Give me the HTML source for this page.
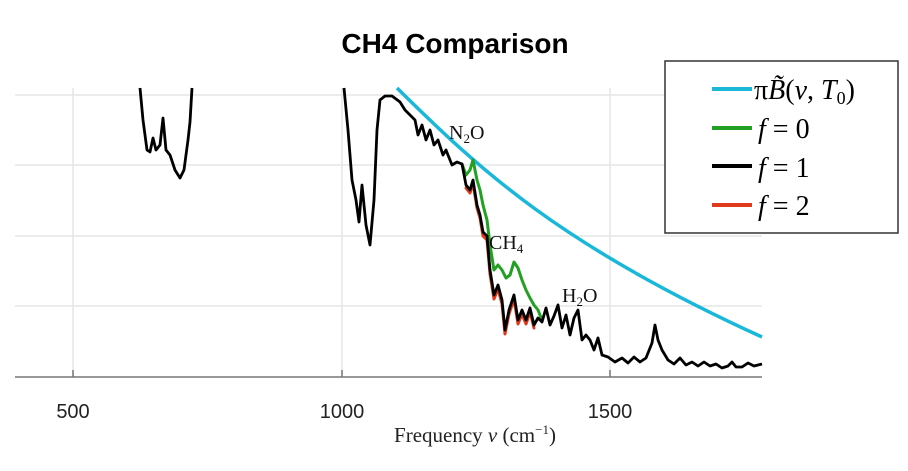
<!DOCTYPE html><html><head><style>body{margin:0;background:#fff}svg{display:block}</style></head><body>
<svg width="908" height="471" xmlns="http://www.w3.org/2000/svg">
<rect width="908" height="471" fill="#fff"/>
<g stroke="#e6e6e6" stroke-width="1.5">
<line x1="15" y1="95" x2="762" y2="95"/><line x1="15" y1="165" x2="762" y2="165"/><line x1="15" y1="236" x2="762" y2="236"/><line x1="15" y1="306" x2="762" y2="306"/>
<line x1="73" y1="88" x2="73" y2="377"/><line x1="342" y1="88" x2="342" y2="377"/><line x1="610" y1="88" x2="610" y2="377"/>
</g>
<line x1="15" y1="377" x2="762" y2="377" stroke="#777" stroke-width="1.5"/>
<g stroke="#777" stroke-width="1.5"><line x1="73" y1="377" x2="73" y2="370"/><line x1="342" y1="377" x2="342" y2="370"/><line x1="610" y1="377" x2="610" y2="370"/></g>
<g font-family="Liberation Sans, sans-serif" font-size="20" fill="#222" text-anchor="middle">
<text x="73" y="418">500</text><text x="342" y="418">1000</text><text x="610" y="418">1500</text></g>
<text x="475" y="442" font-family="Liberation Serif, serif" font-size="21" text-anchor="middle" fill="#222">Frequency <tspan font-style="italic">ν</tspan> (cm<tspan font-size="13" dy="-8">−1</tspan><tspan dy="8">)</tspan></text>
<text x="455" y="53" font-family="Liberation Sans, sans-serif" font-size="28" font-weight="bold" text-anchor="middle" fill="#000">CH4 Comparison</text>
<path d="M397,88 C480,170 560,245 762,337" fill="none" stroke="#1ab8d8" stroke-width="3.5"/>
<g stroke-linejoin="round" stroke-linecap="round">
<path d="M462,164 L466,175 L470,170 L473,160 L477,180 L480,190 L483,205 L487,220 L490,245 L494,270 L498,265 L502,270 L506,278 L510,275 L514,262 L518,268 L522,280 L526,290 L530,298 L534,305 L538,310 L542,320" fill="none" stroke="#22a022" stroke-width="3"/>
<path d="M466,188 L470,193 L473,183 L477,208 L480,218 L483,236 L487,240 L490,274 L494,299 L498,289 L502,304 L505,334 L509,314 L514,299 L518,324 L522,314 L526,324 L530,312 L534,328" fill="none" stroke="#e03a1a" stroke-width="3"/>
</g>
<g fill="none" stroke="#000" stroke-width="2.8" stroke-linejoin="round">
<path d="M140,88 L143,120 L147,150 L150,152 L153,138 L156,150 L160,145 L163,118 L166,150 L170,155 L175,170 L180,178 L184,170 L188,140 L190,122 L192,88"/>
<path d="M344,88 L348,130 L352,180 L356,200 L359,222 L362,185 L366,225 L370,245 L374,200 L377,130 L380,100 L385,96 L392,96 L400,102 L405,110 L410,115 L415,120 L418,135 L422,125 L426,140 L430,130 L434,145 L438,140 L443,155 L446,150 L452,165 L457,162 L462,164 L466,185 L470,190 L473,180 L477,205 L480,215 L483,232 L487,236 L490,270 L494,295 L498,285 L502,300 L505,330 L509,310 L514,295 L518,320 L522,310 L526,320 L530,308 L534,325 L538,318 L542,322 L546,308 L550,325 L554,316 L558,305 L562,328 L566,315 L570,335 L574,318 L578,310 L582,340 L586,335 L590,340 L594,350 L598,338 L602,355 L608,357 L615,362 L622,358 L628,363 L634,357 L640,362 L646,358 L652,343 L655,325 L658,340 L662,350 L668,360 L674,364 L680,358 L686,365 L692,362 L698,366 L704,362 L710,366 L716,364 L722,368 L728,366 L732,362 L736,367 L742,367 L748,363 L754,366 L762,364"/>
</g>
<g font-family="Liberation Serif, serif" font-size="20" fill="#111">
<text x="449" y="139">N<tspan font-size="13" dy="4">2</tspan><tspan dy="-4">O</tspan></text>
<text x="489" y="249">CH<tspan font-size="13" dy="4">4</tspan></text>
<text x="562" y="302">H<tspan font-size="13" dy="4">2</tspan><tspan dy="-4">O</tspan></text>
</g>
<rect x="665" y="61" width="233" height="172" fill="#fff" stroke="#333" stroke-width="1.5"/>
<g stroke-width="4"><line x1="712" y1="89" x2="752" y2="89" stroke="#1ab8d8"/><line x1="712" y1="128" x2="752" y2="128" stroke="#22a022"/><line x1="712" y1="166" x2="752" y2="166" stroke="#000"/><line x1="712" y1="205" x2="752" y2="205" stroke="#e03a1a"/></g>
<g font-family="Liberation Serif, serif" font-size="28" fill="#000">
<text x="754" y="99">π<tspan font-style="italic">B̃</tspan>(<tspan font-style="italic">ν</tspan>, <tspan font-style="italic">T</tspan><tspan font-size="18" dy="5">0</tspan><tspan dy="-5">)</tspan></text>
<text x="758" y="138"><tspan font-style="italic">f</tspan> = 0</text>
<text x="758" y="177"><tspan font-style="italic">f</tspan> = 1</text>
<text x="758" y="215"><tspan font-style="italic">f</tspan> = 2</text>
</g>
</svg></body></html>
